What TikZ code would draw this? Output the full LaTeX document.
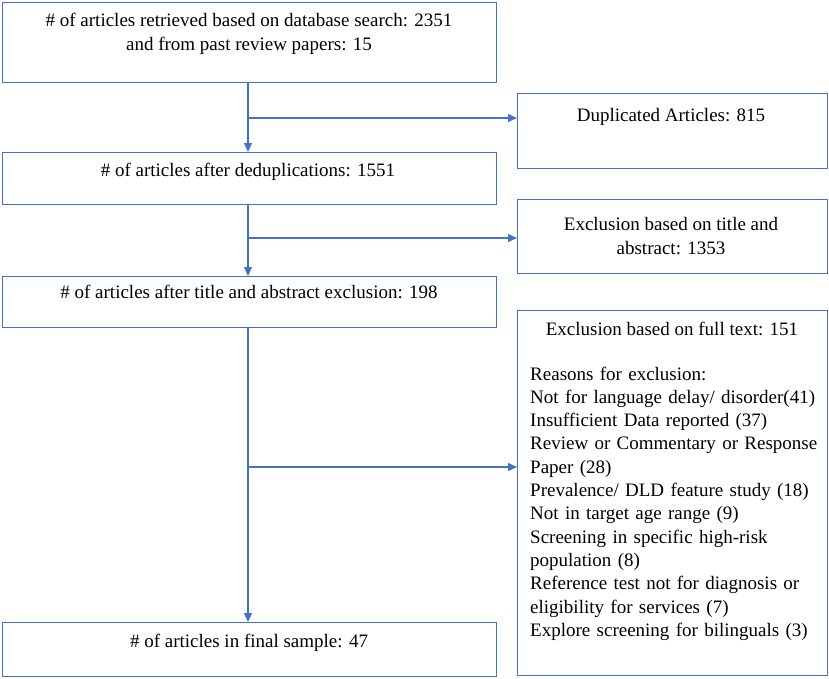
\documentclass[tikz,border=0pt]{standalone}
\usepackage{fontspec}
\setmainfont{Liberation Serif}
\usetikzlibrary{arrows.meta}
\definecolor{bl}{HTML}{4472C4}
\begin{document}
\begin{tikzpicture}[x=1pt,y=-1pt,
  box/.style={draw=bl,line width=1.4pt,inner sep=0pt,anchor=north west},
  txt/.style={inner sep=0pt,anchor=base,font=\fontsize{19}{23.3}\selectfont},
  ltxt/.style={txt,anchor=base west},
  conn/.style={draw=bl,line width=1.2pt,-{Triangle[length=9pt,width=8pt]}}]
\useasboundingbox (0,0) rectangle (829,678);
\node[box,minimum width=494pt,minimum height=80pt] (b1) at (2,2) {};
\node[box,minimum width=310pt,minimum height=75pt] (b2) at (517,93) {};
\node[box,minimum width=494pt,minimum height=52pt] (b3) at (2,152) {};
\node[box,minimum width=310pt,minimum height=74pt] (b4) at (517,199) {};
\node[box,minimum width=494pt,minimum height=51pt] (b5) at (2,276) {};
\node[box,minimum width=310pt,minimum height=365pt] (b6) at (517,310) {};
\node[box,minimum width=494pt,minimum height=54pt] (b7) at (2,622) {};
% texts
\node[txt] (t1a) at (249,26.5) {\# of articles retrieved based on database search: 2351};
\node[txt] (t1b) at (249,50) {and from past review papers: 15};
\node[txt] (t2) at (671,121) {Duplicated Articles: 815};
\node[txt] (t3) at (248,176) {\# of articles after deduplications: 1551};
\node[txt] (t4a) at (671,230) {Exclusion based on title and};
\node[txt] (t4b) at (671,254) {abstract: 1353};
\node[txt] (t5) at (249,298) {\# of articles after title and abstract exclusion: 198};
\node[txt] (t6) at (672,335) {Exclusion based on full text: 151};
\node[ltxt,align=left,text width=300pt,anchor=north west] (t6b) at (530,366.5) {Reasons for exclusion:\\
Not for language delay/ disorder(41)\\
Insufficient Data reported (37)\\
Review or Commentary or Response\\
Paper (28)\\
Prevalence/ DLD feature study (18)\\
Not in target age range (9)\\
Screening in specific high-risk\\
population (8)\\
Reference test not for diagnosis or\\
eligibility for services (7)\\
Explore screening for bilinguals (3)};
\node[txt] (t7) at (249,647) {\# of articles in final sample: 47};
% connectors
\coordinate (j1) at (248,118);
\coordinate (j2) at (248,238);
\coordinate (j3) at (248,467);
\draw[conn] (b1.south -| j1) -- (b3.north -| j1);
\draw[conn] (b3.south -| j2) -- (b5.north -| j2);
\draw[conn] (b5.south -| j3) -- (b7.north -| j3);
\draw[conn] (j1) -- (b2.west |- j1);
\draw[conn] (j2) -- (b4.west |- j2);
\draw[conn] (j3) -- (b6.west |- j3);
\end{tikzpicture}
\end{document}
